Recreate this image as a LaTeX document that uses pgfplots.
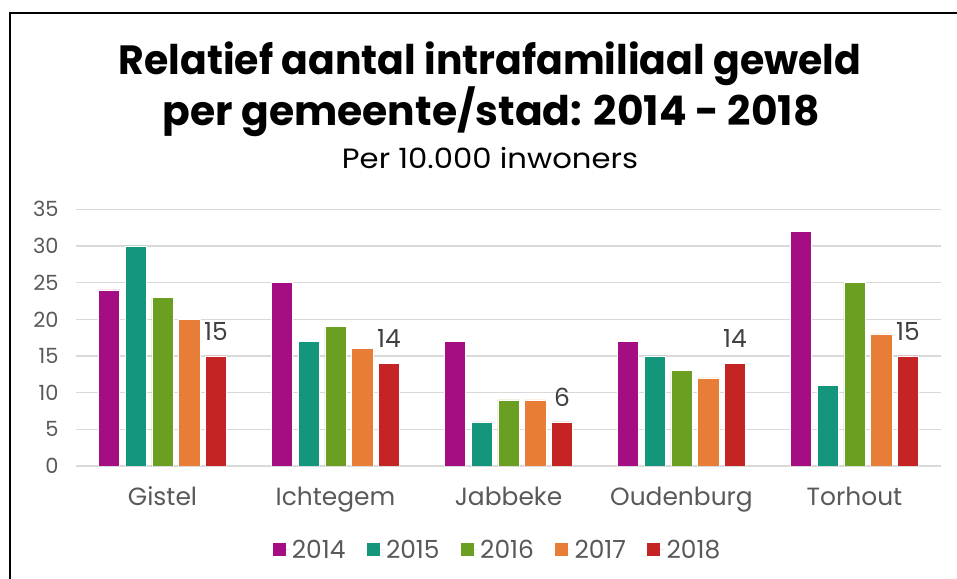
\documentclass[border=0pt]{standalone}
\usepackage{fontspec}
\setmainfont{Poppins}
\usepackage{pgfplots}
\pgfplotsset{compat=1.18}
\definecolor{cA}{HTML}{A50E82}
\definecolor{cB}{HTML}{14967C}
\definecolor{cC}{HTML}{6A9F22}
\definecolor{cD}{HTML}{E77D37}
\definecolor{cE}{HTML}{C42424}
\definecolor{txt}{HTML}{595959}
\definecolor{lbl}{HTML}{404040}
\definecolor{grid}{HTML}{D9D9D9}
\begin{document}
\begin{tikzpicture}[x=1bp,y=1bp]
\useasboundingbox (0,0) rectangle (957,579);
\draw[black, line width=2bp] (10,0) -- (10,566) -- (957,566);
\node[anchor=base, inner sep=0pt] at (490,504) {\scalebox{0.965}[1]{\fontsize{41}{41}\selectfont\bfseries Relatief aantal intrafamiliaal geweld}};
\node[anchor=base, inner sep=0pt] at (491,453) {\fontsize{41}{41}\selectfont\bfseries per gemeente/stad: 2014 - 2018};
\node[anchor=base, inner sep=0pt] at (490,410) {\scalebox{1.1}[1]{\fontsize{28}{28}\selectfont Per 10.000 inwoners}};
\begin{axis}[
  at={(76bp,113bp)}, anchor=south west,
  scale only axis, width=865bp, height=256.7bp,
  xmin=-0.5, xmax=4.5, ymin=0, ymax=35,
  ybar=5.4bp, bar width=21.3bp,
  xtick={0,1,2,3,4},
  xticklabels={Gistel,Ichtegem,Jabbeke,Oudenburg,Torhout},
  ytick={0,5,...,35},
  axis line style={draw=none},
  tick style={draw=none},
  ymajorgrids, major grid style={draw=grid, line width=1.5bp},
  /pgf/number format/assume math mode=true,
  yticklabel style={font=\fontsize{21}{21}\selectfont, text=txt, xshift=-14bp},
  xticklabel style={font=\fontsize{25}{25}\selectfont, text=txt, yshift=-13bp},
  legend style={at={(0.487,-0.327)}, anchor=center, draw=none, fill=none,
    legend columns=5, font=\fontsize{25}{25}\selectfont, text=txt,
    /tikz/every even column/.append style={column sep=19bp}},
  legend image code/.code={\path (0bp,0bp) -- (17bp,0bp); \draw[#1, draw=none] (0bp,-6.5bp) rectangle (13bp,6.5bp);},
  every axis plot/.append style={draw=white, line width=0.6bp},
]
\addplot[fill=cA] coordinates {(0,24) (1,25) (2,17) (3,17) (4,32)};
\addplot[fill=cB] coordinates {(0,30) (1,17) (2,6) (3,15) (4,11)};
\addplot[fill=cC] coordinates {(0,23) (1,19) (2,9) (3,13) (4,25)};
\addplot[fill=cD] coordinates {(0,20) (1,16) (2,9) (3,12) (4,18)};
\addplot[fill=cE, nodes near coords, every node near coord/.append style={font=\fontsize{25}{25}\selectfont, text=lbl, yshift=12bp}] coordinates {(0,15) (1,14) (2,6) (3,14) (4,15)};
\legend{2014,2015,2016,2017,2018}
\end{axis}
\end{tikzpicture}
\end{document}
